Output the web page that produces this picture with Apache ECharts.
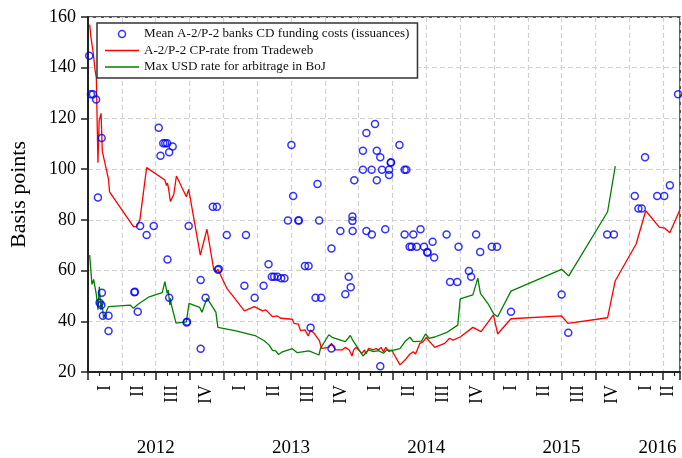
<!DOCTYPE html>
<html lang="en">
<head>
  <meta charset="utf-8">
  <title>CD funding costs</title>
  <script src="https://cdn.jsdelivr.net/npm/echarts@6/dist/echarts.min.js"></script>
  <style>
    html, body { margin: 0; padding: 0; background: #fff; }
    #chart { width: 682px; height: 458px; }
  </style>
</head>
<body>
<div id="chart"></div>
<script>
  // x values are months since 1 Jan 2012
  var xMin = 0, xMax = 52.5;
  var quarterNames = ['I', 'II', 'III', 'IV'];
  var yearNames = ['2012', '2013', '2014', '2015', '2016'];
  var yTicks = { min: 20, max: 160, step: 20 };

  var seriesNames = [
    'Mean A-2/P-2 banks CD funding costs (issuances)',
    'A-2/P-2 CP-rate from Tradeweb',
    'Max USD rate for arbitrage in BoJ'
  ];

  var cdFunding = [
    [0.11,144.7],[0.26,129.5],[0.44,129.5],[0.72,127.5],[0.88,88.8],[1.03,47.3],[1.18,46.4],
    [1.21,112.3],[1.23,51.3],[1.32,42.2],[1.82,42.2],[1.82,36.2],[4.11,51.5],[4.16,51.6],
    [4.41,43.8],[4.62,77.6],[5.20,74.0],[5.83,77.6],[6.27,116.3],[6.43,105.3],[6.67,110.2],
    [6.85,110.2],[7.02,110.2],[7.05,64.4],[7.20,106.7],[7.20,49.3],[7.51,108.9],[8.74,39.5],
    [8.78,39.8],[8.93,77.6],[9.99,56.3],[9.99,29.2],[10.43,49.3],[11.07,85.2],[11.43,85.2],
    [11.52,60.3],[11.60,60.6],[12.31,74.0],[13.87,54.0],[14.01,74.0],[14.78,49.3],[15.57,54.0],
    [16.01,62.5],[16.30,57.6],[16.51,57.6],[16.80,57.6],[17.13,57.0],[17.42,57.0],[17.73,79.7],
    [18.04,109.5],[18.19,89.4],[18.65,79.7],[18.70,79.7],[19.24,61.8],[19.56,61.8],[19.74,37.5],
    [20.18,49.3],[20.35,94.1],[20.50,79.7],[20.68,49.3],[21.59,68.7],[21.59,29.3],[22.38,75.6],
    [22.82,50.7],[23.12,57.6],[23.30,53.4],[23.45,81.3],[23.45,79.6],[23.47,75.6],[23.61,95.6],
    [24.38,107.3],[24.38,99.8],[24.69,114.3],[24.69,75.6],[25.15,99.8],[25.17,74.2],[25.45,117.8],
    [25.61,107.3],[25.61,95.6],[25.92,104.7],[25.92,22.3],[26.07,99.8],[26.36,76.3],[26.70,99.8],
    [26.70,97.7],[26.85,102.5],[26.87,102.7],[27.62,109.5],[28.08,99.8],[28.23,99.8],[28.08,74.2],
    [28.52,69.4],[28.70,69.4],[28.85,74.2],[29.15,69.4],[29.49,76.3],[29.80,69.4],[30.09,67.3],
    [30.11,67.0],[30.56,71.4],[30.70,65.2],[31.80,74.2],[32.11,55.5],[32.75,55.5],[32.86,69.4],
    [33.78,59.8],[33.98,57.6],[34.42,74.2],[34.78,67.3],[35.81,69.4],[36.27,69.4],[37.51,43.8],
    [42.00,50.6],[42.59,35.5],[46.04,74.2],[46.64,74.2],[48.49,89.4],[48.81,84.5],[49.11,84.5],
    [49.40,104.7],[50.48,89.4],[51.10,89.4],[51.60,93.6],[52.33,129.5]
  ];

  var cpRate = [
    [0.15,157],[0.26,152],[0.46,146],[0.63,139],[0.74,136],[0.88,102.5],[0.99,119],[1.16,122],
    [1.27,107],[1.82,96],[1.91,91],[4.03,77.3],[4.32,77.3],[4.60,80],[5.20,100.6],[6.82,95.7],
    [6.96,93.5],[7.05,94.5],[7.14,92.4],[7.31,87.2],[7.61,90.1],[7.84,97.3],[8.72,89.1],
    [8.93,92],[9.96,66.1],[10.55,76.3],[11.16,60.2],[11.37,59.6],[11.52,60.5],[12.31,53],
    [12.84,50],[13.87,44.1],[14.75,45.8],[15.48,44.1],[15.77,44.5],[16.01,43.4],[16.36,41.8],
    [16.80,42.1],[17.09,41.2],[18.12,40.8],[18.27,39.2],[18.65,38.9],[18.85,36.3],[19.24,36.6],
    [19.53,34.2],[19.74,36.6],[20.04,35.3],[20.53,32.3],[20.70,29.3],[21.36,29.7],[21.59,31.3],
    [21.94,28.7],[22.53,28.7],[22.82,29.7],[23.17,28.7],[23.41,26.3],[23.56,28.7],[23.76,29.7],
    [24.29,27.4],[24.53,28.7],[24.64,27.1],[24.88,29.3],[25.32,28.7],[25.52,29.3],[25.76,28.7],
    [25.99,29.7],[26.20,28],[26.41,29.7],[26.70,28],[26.93,28.7],[27.22,26.3],[27.67,22.8],
    [28.11,24.7],[28.55,27.1],[28.85,28],[29.05,27.1],[29.43,31.3],[29.73,32],[30.02,33.7],
    [30.17,32.6],[30.75,29.7],[31.63,31.3],[32.07,33.3],[32.37,32.6],[33.04,33.9],[34.13,37.6],
    [34.86,35.9],[35.95,42.5],[36.33,35],[37.51,41],[42.00,42.1],[42.56,39.2],[46.08,41.4],
    [46.76,56],[48.61,70.5],[49.46,83.6],[50.66,77.1],[51.16,76.7],[51.60,74.9],[52.48,83.9]
  ];

  var bojMax = [
    [0.15,66.1],[0.35,54.5],[0.50,56.5],[0.74,50.5],[0.88,44.6],[1.00,53.6],[1.09,53.9],
    [1.15,44.5],[1.23,47.7],[1.38,41.2],[1.53,42.9],[1.82,45.8],[3.74,46.4],[4.03,45.1],
    [4.47,46.8],[5.36,49.5],[6.58,51.3],[6.82,55.6],[7.02,51],[7.11,52.3],[7.26,46.4],
    [7.31,49.1],[7.40,46.4],[7.81,39.3],[8.72,39.8],[8.96,47.1],[9.90,45.5],[10.11,43.6],
    [10.55,49.1],[11.34,43.6],[11.52,37.6],[13.13,36.2],[14.89,34.2],[15.63,32.3],[16.07,30.6],
    [16.36,28.5],[16.65,28.3],[16.89,26.9],[17.18,27.8],[18.12,29.2],[18.56,27.6],[18.71,28.3],
    [19.59,28.3],[20.48,26.7],[20.62,29.3],[21.36,34.7],[21.65,33.7],[22.53,32.4],[22.82,32],
    [23.26,34.4],[23.47,32.6],[23.85,30],[24.38,26.3],[24.88,28.7],[25.32,28],[25.76,28.4],
    [26.20,27.4],[26.49,28.7],[26.93,28.4],[27.67,29.2],[28.11,32],[28.55,33.7],[28.85,32],
    [29.58,32.2],[29.93,35],[30.24,33.3],[30.75,33.8],[31.78,35.5],[32.79,38.5],[33.01,48.8],
    [34.13,50.4],[34.57,57],[34.80,51],[35.45,47.1],[35.98,42.9],[36.33,41.8],[37.51,51.9],
    [42.00,60.5],[42.64,57.9],[46.08,83.2],[46.76,101.2]
  ];

  // label rows under the axis: half-month slots, label in the middle of each quarter / year
  var slots = Math.round((xMax - xMin) * 2);
  var quarterCats = [], yearCats = [], slotKeys = [];
  for (var i = 0; i <= slots; i++) { quarterCats.push(''); yearCats.push(''); slotKeys.push(String(i)); }
  for (var k = 0; 6 * k < slots; k++) {
    quarterCats[Math.floor((6 * k + Math.min(6 * k + 6, slots)) / 2)] = quarterNames[k % 4];
  }
  for (var y = 0; 24 * y < slots && y < yearNames.length; y++) {
    yearCats[Math.ceil((24 * y + Math.min(24 * y + 24, slots)) / 2)] = yearNames[y];
  }

  var font = "'Liberation Serif', 'Times New Roman', serif";
  var lineIcon = 'path://M0,0H34V1.4H0Z';
  var chart = echarts.init(document.getElementById('chart'));

  var option = {
    animation: false,
    textStyle: { fontFamily: font, color: '#000' },
    grid: {
      left: 85, right: 2, top: 17, bottom: 85.5,
      show: true, borderColor: '#222', borderWidth: 1.5
    },
    legend: {
      left: 97, top: 23,
      orient: 'vertical',
      padding: [4, 8, 4, 8],
      itemGap: 2.5,
      itemWidth: 34,
      itemHeight: 7,
      backgroundColor: '#fff',
      borderColor: '#333',
      borderWidth: 1.5,
      textStyle: { fontFamily: font, fontSize: 13.1, color: '#111', lineHeight: 14 },
      data: [
        { name: seriesNames[0], icon: 'circle',
          itemStyle: { color: 'rgba(0,0,0,0)', borderColor: '#0000ff', borderWidth: 1.5 } },
        { name: seriesNames[1], icon: lineIcon,
          itemStyle: { color: '#ff0000', borderWidth: 0 } },
        { name: seriesNames[2], icon: lineIcon,
          itemStyle: { color: '#008000', borderWidth: 0 } }
      ]
    },
    xAxis: [
      {
        type: 'value', min: xMin, max: xMax, interval: 3,
        axisLine: { show: true, lineStyle: { color: '#222', width: 2 } },
        axisTick: { show: true, inside: false, length: 8, lineStyle: { color: '#222', width: 1.5 } },
        minorTick: { show: true, splitNumber: 3, length: 4, lineStyle: { color: '#222', width: 1.2 } },
        axisLabel: { show: false },
        splitLine: { show: true, lineStyle: { color: '#d2d2d2', type: [5, 3], width: 1.2 } }
      },
      {
        type: 'category', data: slotKeys, boundaryGap: false, position: 'bottom',
        axisLine: { show: false }, axisTick: { show: false }, splitLine: { show: false },
        axisLabel: {
          rotate: 90, margin: 13, fontSize: 18, fontFamily: font, color: '#000',
          interval: function (idx) { return quarterCats[idx] !== ''; },
          formatter: function (v, idx) { return quarterCats[idx]; }
        }
      },
      {
        type: 'category', data: slotKeys, boundaryGap: false, position: 'bottom',
        axisLine: { show: false }, axisTick: { show: false }, splitLine: { show: false },
        axisLabel: {
          margin: 67, fontSize: 19, fontFamily: font, color: '#000',
          interval: function (idx) { return yearCats[idx] !== ''; },
          formatter: function (v, idx) { return yearCats[idx]; }
        }
      }
    ],
    yAxis: {
      type: 'value', min: yTicks.min, max: yTicks.max, interval: yTicks.step,
      name: 'Basis points', nameLocation: 'middle', nameGap: 58,
      nameTextStyle: { fontFamily: font, fontSize: 22, color: '#000' },
      axisLine: { show: true, lineStyle: { color: '#222', width: 2 } },
      axisTick: { show: true, inside: false, length: 7, lineStyle: { color: '#222', width: 1.5 } },
      axisLabel: { margin: 12, fontSize: 18, fontFamily: font, color: '#000' },
      splitLine: { show: true, lineStyle: { color: '#d2d2d2', type: [5, 3], width: 1.2 } }
    },
    series: [
      {
        name: seriesNames[0], type: 'scatter', xAxisIndex: 0,
        symbol: 'circle', symbolSize: 7,
        itemStyle: { color: 'rgba(0,0,0,0)', borderColor: '#0000ff', borderWidth: 1.5 },
        data: cdFunding, z: 3
      },
      {
        name: seriesNames[1], type: 'line', xAxisIndex: 0,
        symbol: 'none', showSymbol: false,
        itemStyle: { color: '#ff0000' },
        lineStyle: { color: '#ff0000', width: 1.3 },
        data: cpRate, z: 2
      },
      {
        name: seriesNames[2], type: 'line', xAxisIndex: 0,
        symbol: 'none', showSymbol: false,
        itemStyle: { color: '#008000' },
        lineStyle: { color: '#008000', width: 1.3 },
        data: bojMax, z: 2
      }
    ]
  };
  chart.setOption(option);
</script>
</body>
</html>
